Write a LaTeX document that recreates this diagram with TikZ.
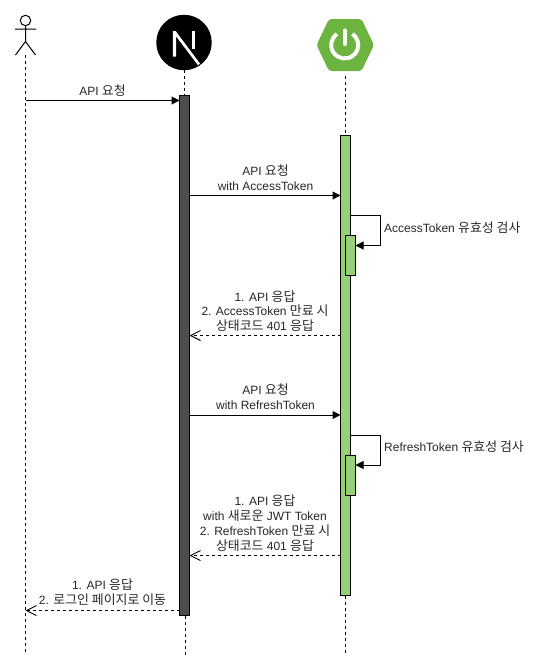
\documentclass[tikz,border=0pt]{standalone}
\usepackage{fontspec}
\setmainfont{Liberation Sans}
\newfontfamily\kr{Noto Sans CJK KR}
\usetikzlibrary{arrows.meta}
\definecolor{barDark}{HTML}{4D4D4D}
\definecolor{barGreen}{HTML}{97D077}
\definecolor{springGreen}{HTML}{6DB33F}
\definecolor{labelInk}{HTML}{262626}
\newcommand{\K}[1]{{\kr\fontsize{12.9}{14}\selectfont #1}}
\tikzset{
  life/.style={line width=0.9pt,dash pattern=on 3pt off 3pt},
  darkbar/.style={draw=black,fill=barDark,line width=1pt,minimum width=10pt,inner sep=0pt,outer sep=0pt},
  greenbar/.style={draw=black,fill=barGreen,line width=1pt,minimum width=10pt,inner sep=0pt,outer sep=0pt},
  call/.style={line width=1pt,-{Triangle[length=8pt,width=8pt]}},
  reply/.style={line width=0.9pt,dash pattern=on 3pt off 3pt,-{Straight Barb[length=10pt,width=10pt,line width=0.9pt]}},
  lbl/.style={inner sep=0pt,align=center,text=labelInk,font=\fontsize{12}{14.8}\selectfont},
}
\begin{document}
\begin{tikzpicture}[x=1pt,y=-1pt]
\useasboundingbox (0,0) rectangle (541,672);
% actor
\coordinate (actortop) at (25.5,55);
\coordinate (actorend) at (25.5,652);
\node[circle,draw=black,line width=1pt,minimum size=10.5pt,inner sep=0pt] (head) at (25.5,20.5) {};
\draw[line width=1pt] (head.south) -- (25.5,41.5) (15,29) -- (36,29) (15.5,55) -- (25.5,41.5) -- (35.5,55);
% Next logo
\node[circle,fill=black,minimum size=55.5pt,inner sep=0pt,outer sep=0pt] (nextlogo) at (184,42.5) {};
\fill[white] (172.8,31) -- (176.2,31) -- (176.2,31.8) -- (200,63.5) -- (198,65.2) -- (176.2,36.5) -- (176.2,56.5) -- (172.8,56.5) -- cycle;
\fill[white] (191.8,31) rectangle (195.2,49);
% Spring logo
\fill[springGreen,rounded corners=3pt] (316.5,45) -- (329,19) -- (361.5,19) -- (374,45) -- (361.5,71) -- (329,71) -- cycle;
\coordinate (springbase) at (345.5,76);
\draw[white,line width=4pt] (344.7,45) ++(125:13.5pt) arc[start angle=125,delta angle=290,radius=13.5pt];
\draw[white,line width=4pt,line cap=round] (344.7,30.5) -- (344.7,44);
% bars
\node[darkbar,minimum height=520pt] (nextbar) at (184.5,355.5) {};
\node[greenbar,minimum height=460pt] (springbar) at (345.5,365.5) {};
\node[greenbar,minimum height=40pt] (checka) at (350.5,255.5) {};
\node[greenbar,minimum height=40pt] (checkb) at (350.5,475.5) {};
% lifelines
\coordinate (nextup) at (184.5,95);
\coordinate (nextlow) at (185.5,616);
\coordinate (nextend) at (185.5,655);
\coordinate (springend) at (345.5,655);
\draw[life] (actortop) -- (actorend);
\draw[life] (nextlogo.south -| nextup) -- (nextup);
\draw[life] (nextlow) -- (nextend);
\draw[life] (springbase) -- (springbar.north);
\draw[life] (springbar.south) -- (springend);
% message levels
\coordinate (m1) at (0,100.5);
\coordinate (m2) at (0,195.5);
\coordinate (m3) at (0,335.5);
\coordinate (m4) at (0,415);
\coordinate (m5) at (0,555.5);
\coordinate (m6) at (0,610.5);
\coordinate (la1) at (0,215.5);
\coordinate (la2) at (0,245.5);
\coordinate (lb1) at (0,435);
\coordinate (lb2) at (0,465);
\coordinate (lx) at (380.5,0);
% messages
\draw[call] (actortop |- m1) -- (nextbar.west |- m1);
\draw[call] (nextbar.east |- m2) -- (springbar.west |- m2);
\draw[reply] (springbar.west |- m3) -- (nextbar.east |- m3);
\draw[call] (nextbar.east |- m4) -- (springbar.west |- m4);
\draw[reply] (springbar.west |- m5) -- (nextbar.east |- m5);
\draw[reply] (nextbar.west |- m6) -- (actortop |- m6);
\draw[call] (springbar.east |- la1) -- (lx |- la1) -- (lx |- la2) -- (checka.east |- la2);
\draw[call] (springbar.east |- lb1) -- (lx |- lb1) -- (lx |- lb2) -- (checkb.east |- lb2);
% labels
\node[lbl] (t1) at (102.5,90.5) {API \K{요청}};
\node[lbl] (t2) at (265.5,177.5) {API \K{요청}\\with AccessToken};
\node[lbl] (t3) at (265,311) {1. API \K{응답}\\2. AccessToken \K{만료 시}\\\K{상태코드} 401 \K{응답}};
\node[lbl] (t4) at (265.5,396.5) {API \K{요청}\\with RefreshToken};
\node[lbl] (t5) at (265,523) {1. API \K{응답}\\with \K{새로운} JWT Token\\2. RefreshToken \K{만료 시}\\\K{상태코드} 401 \K{응답}};
\node[lbl] (t6) at (102.5,592.5) {1. API \K{응답}\\2. \K{로그인 페이지로 이동}};
\node[lbl,anchor=west] (t7) at (384,228) {AccessToken \K{유효성 검사}};
\node[lbl,anchor=west] (t8) at (384,447) {RefreshToken \K{유효성 검사}};
\end{tikzpicture}
\end{document}
